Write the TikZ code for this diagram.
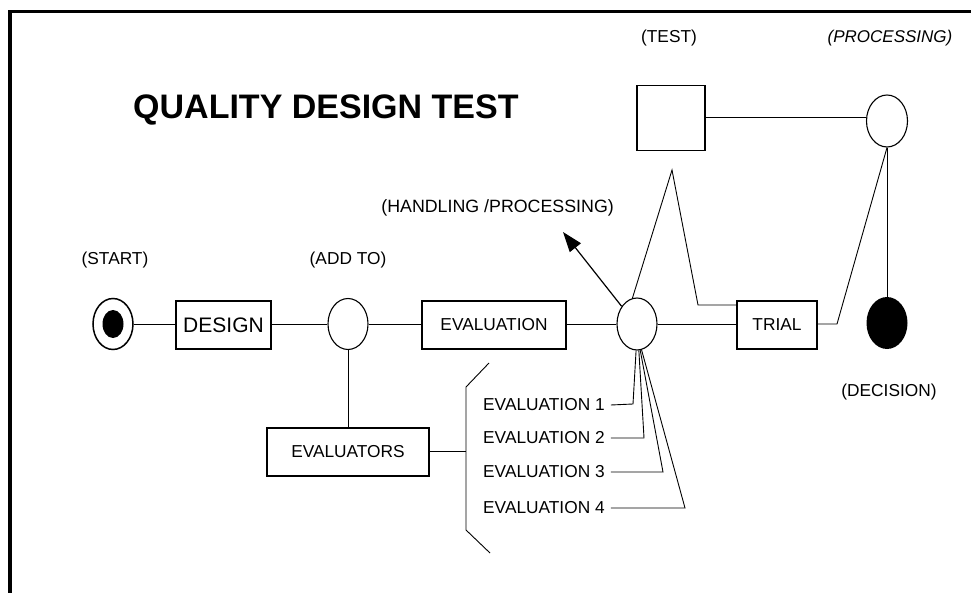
\documentclass[tikz,border=0pt]{standalone}
\usepackage{fontspec}
\setmainfont{Liberation Sans}
\usetikzlibrary{shapes.geometric,arrows.meta,calc}
\tikzset{
  box/.style={draw,line width=1.1pt,rectangle,inner sep=0pt,font=\fontsize{17.3}{18}\selectfont},
  circ/.style={draw,line width=1.1pt,ellipse,inner sep=0pt,minimum width=40pt,minimum height=51pt},
  dot/.style={fill=black,ellipse,inner sep=0pt},
  lbl/.style={font=\fontsize{17.3}{18}\selectfont,inner sep=0pt},
  conn/.style={line width=0.9pt},
}
\begin{document}
\begin{tikzpicture}[x=1pt,y=-1pt]
\useasboundingbox (0,0) rectangle (971,593);
% frame
\draw[line width=3.2pt] (10,593) -- (10,11.5) -- (971,11.5);
% title
\node[inner sep=0pt,font=\fontsize{34}{36}\selectfont\bfseries,anchor=west] (title) at (133,110) {QUALITY DESIGN TEST};
% main nodes
\node[circ,line width=1.5pt] (start) at (113,324) {};
\node[dot,minimum width=21pt,minimum height=28pt] (startdot) at (113,324) {};
\node[box,minimum width=95pt,minimum height=48pt,font=\fontsize{21}{22}\selectfont] (design) at (223.5,325) {DESIGN};
\node[circ] (addto) at (348,324) {};
\node[box,minimum width=144pt,minimum height=48pt] (evaluation) at (494,325) {EVALUATION};
\node[circ,minimum height=52pt] (hp) at (637,324) {};
\node[box,minimum width=80pt,minimum height=48pt] (trial) at (777,325) {TRIAL};
\node[dot,minimum width=41pt,minimum height=52pt] (decision) at (887,323) {};
\node[box,minimum width=68pt,minimum height=65pt] (test) at (671,118) {};
\node[circ,minimum width=41pt,minimum height=52pt] (proc) at (887,121) {};
\node[box,minimum width=162pt,minimum height=48pt] (evaluators) at (348,452) {EVALUATORS};
% labels
\node[lbl] (lstart) at (115,260) {(START)};
\node[lbl] (laddto) at (348,260) {(ADD TO)};
\node[lbl] (ltest) at (669,38) {(TEST)};
\node[lbl,font=\fontsize{17}{18}\selectfont\itshape] (lproc) at (890,38) {(PROCESSING)};
\node[lbl,font=\fontsize{17.8}{20}\selectfont,anchor=east] (lhp) at (614,208) {(HANDLING /PROCESSING)};
\node[lbl] (ldec) at (889,392) {(DECISION)};
\node[lbl,anchor=west] (e1) at (483,405) {EVALUATION 1};
\node[lbl,anchor=west] (e2) at (483,438) {EVALUATION 2};
\node[lbl,anchor=west] (e3) at (483,472) {EVALUATION 3};
\node[lbl,anchor=west] (e4) at (483,508) {EVALUATION 4};
% coordinates
\coordinate (br) at (466,451);
\coordinate (brtop) at (489,363);
\coordinate (brbot) at (490,553);
\coordinate (apex) at (672,170);
\coordinate (tfoot) at (698,305);
\coordinate (trin) at (737,305);
\coordinate (tbend) at (837,324);
\coordinate (arrtip) at (563,232);
\coordinate (c1) at (633,404);
\coordinate (c2) at (644,438);
\coordinate (c3) at (663,472);
\coordinate (c4) at (685,508);
% connectors
\draw[conn] (start.east) -- (design.west |- start.east);
\draw[conn] (design.east |- addto.west) -- (addto.west);
\draw[conn] (addto.east) -- (evaluation.west |- addto.east);
\draw[conn] (evaluation.east |- hp.west) -- (hp.west);
\draw[conn] (hp.east) -- (trial.west |- hp.east);
\draw[conn] (addto.south) -- (evaluators.north);
\draw[conn] (evaluators.east |- br) -- (br);
\draw[conn] (brtop) -- (466,387) -- (466,530) -- (brbot);
\draw[conn] (test.east |- 0,117) -- (proc.west |- 0,117);
\draw[conn] (trial.east |- tbend) -- (tbend) -- (proc.south);
\draw[conn] (proc.south) -- (decision.north);
\draw[conn] (hp.100) -- (apex) -- (tfoot) -- (trin);
\draw[line width=1.2pt,-{Triangle[length=20pt,width=14pt]}] (hp.131) -- (arrtip);
\draw[conn] (e1.east) ++(6,0) -- (c1) -- (hp.-92);
\draw[conn] (e2.east) ++(6,0) -- (c2) -- (hp.-86);
\draw[conn] (e3.east) ++(6,0) -- (c3) -- (hp.-83);
\draw[conn] (e4.east) ++(6,0) -- (c4) -- (hp.-80);
\end{tikzpicture}
\end{document}
